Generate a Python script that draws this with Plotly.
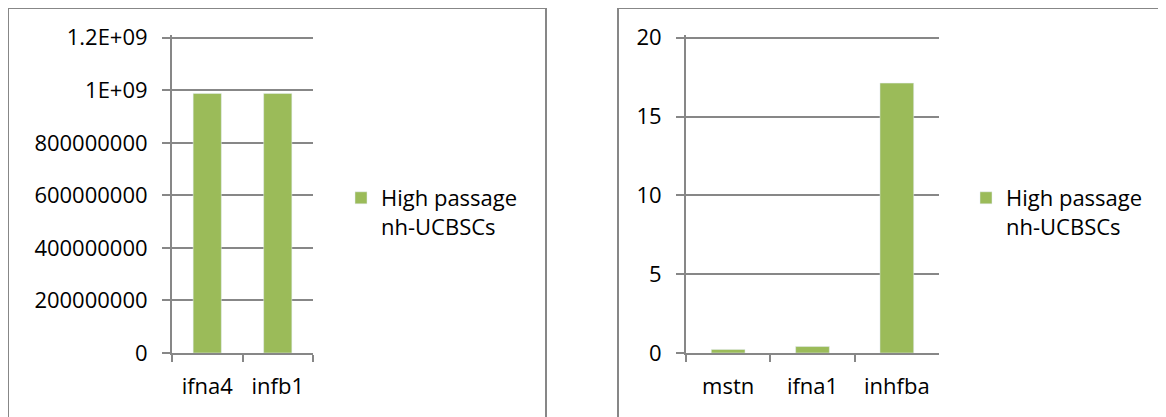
import plotly.graph_objects as go

# ---- data ----
left_categories = ["ifna4", "infb1"]
left_values = [9.88e8, 9.88e8]
left_tickvals = [0, 2e8, 4e8, 6e8, 8e8, 1e9, 1.2e9]
left_ticktext = ["0", "200000000", "400000000", "600000000", "800000000", "1E+09", "1.2E+09"]

right_categories = ["mstn", "ifna1", "inhfba"]
right_values = [0.23, 0.41, 17.12]
right_tickvals = [0, 5, 10, 15, 20]
right_ticktext = ["0", "5", "10", "15", "20"]

series_name = "High passage<br>nh-UCBSCs"

# ---- style ----
W, H = 1166, 417
OFF = 8  # page body margin
GREEN = "#9BBB59"
GRAY = "#878787"
FONT = dict(family="Open Sans", size=22, color="#000000")
HEADROOM = 1.01  # tiny extra range so the top gridline is drawn


def px_x(v):
    return (v - OFF) / W


def px_y(v):
    return 1 - (v - OFF) / H


fig = go.Figure()
fig.add_trace(go.Bar(x=left_categories, y=left_values, name=series_name,
                     marker=dict(color=GREEN), showlegend=True,
                     xaxis="x", yaxis="y", legend="legend"))
fig.add_trace(go.Bar(x=right_categories, y=right_values, name=series_name,
                     marker=dict(color=GREEN), showlegend=True,
                     xaxis="x2", yaxis="y2", legend="legend2"))

y_zero, y_top = 353.0, 37.7
y_dom = [px_y(y_zero), px_y(y_zero - (y_zero - y_top) * HEADROOM)]
common_x = dict(type="category", showgrid=False, showline=True, linecolor=GRAY, linewidth=2,
                ticks="outside", tickson="boundaries", ticklen=7, tickcolor=GRAY, tickwidth=2,
                tickfont=FONT, ticklabelstandoff=13, zeroline=False, fixedrange=True,
                automargin=False)
common_y = dict(showgrid=True, gridcolor=GRAY, gridwidth=2, showline=True, linecolor=GRAY,
                linewidth=2, ticks="outside", ticklen=8, tickcolor=GRAY, tickwidth=2,
                tickfont=FONT, ticklabelstandoff=10, zeroline=False, fixedrange=True,
                automargin=False)

legend_common = dict(xanchor="left", yanchor="top", font=FONT, valign="top",
                     bgcolor="rgba(0,0,0,0)", visible=True)

fig.update_layout(
    width=W, height=H,
    margin=dict(l=0, r=0, t=0, b=0, autoexpand=False),
    paper_bgcolor="white", plot_bgcolor="white",
    font=FONT,
    showlegend=True,
    bargap=0.6,
    xaxis=dict(domain=[px_x(172), px_x(313)], anchor="y", **common_x),
    yaxis=dict(domain=y_dom, anchor="x", range=[0, 1.2e9 * HEADROOM], tickmode="array",
               tickvals=left_tickvals, ticktext=left_ticktext, **common_y),
    xaxis2=dict(domain=[px_x(686), px_x(939)], anchor="y2", **common_x),
    yaxis2=dict(domain=y_dom, anchor="x2", range=[0, 20 * HEADROOM], tickmode="array",
                tickvals=right_tickvals, ticktext=right_ticktext, **common_y),
    legend=dict(x=px_x(341), y=px_y(177), **legend_common),
    legend2=dict(x=px_x(966), y=px_y(177), **legend_common),
    shapes=[
        dict(type="rect", xref="paper", yref="paper", x0=px_x(8), x1=px_x(546),
             y0=-0.1, y1=px_y(8), line=dict(color=GRAY, width=2)),
        dict(type="rect", xref="paper", yref="paper", x0=px_x(618), x1=1.1,
             y0=-0.1, y1=px_y(8), line=dict(color=GRAY, width=2)),
    ],
)

fig.write_html("out.html")
